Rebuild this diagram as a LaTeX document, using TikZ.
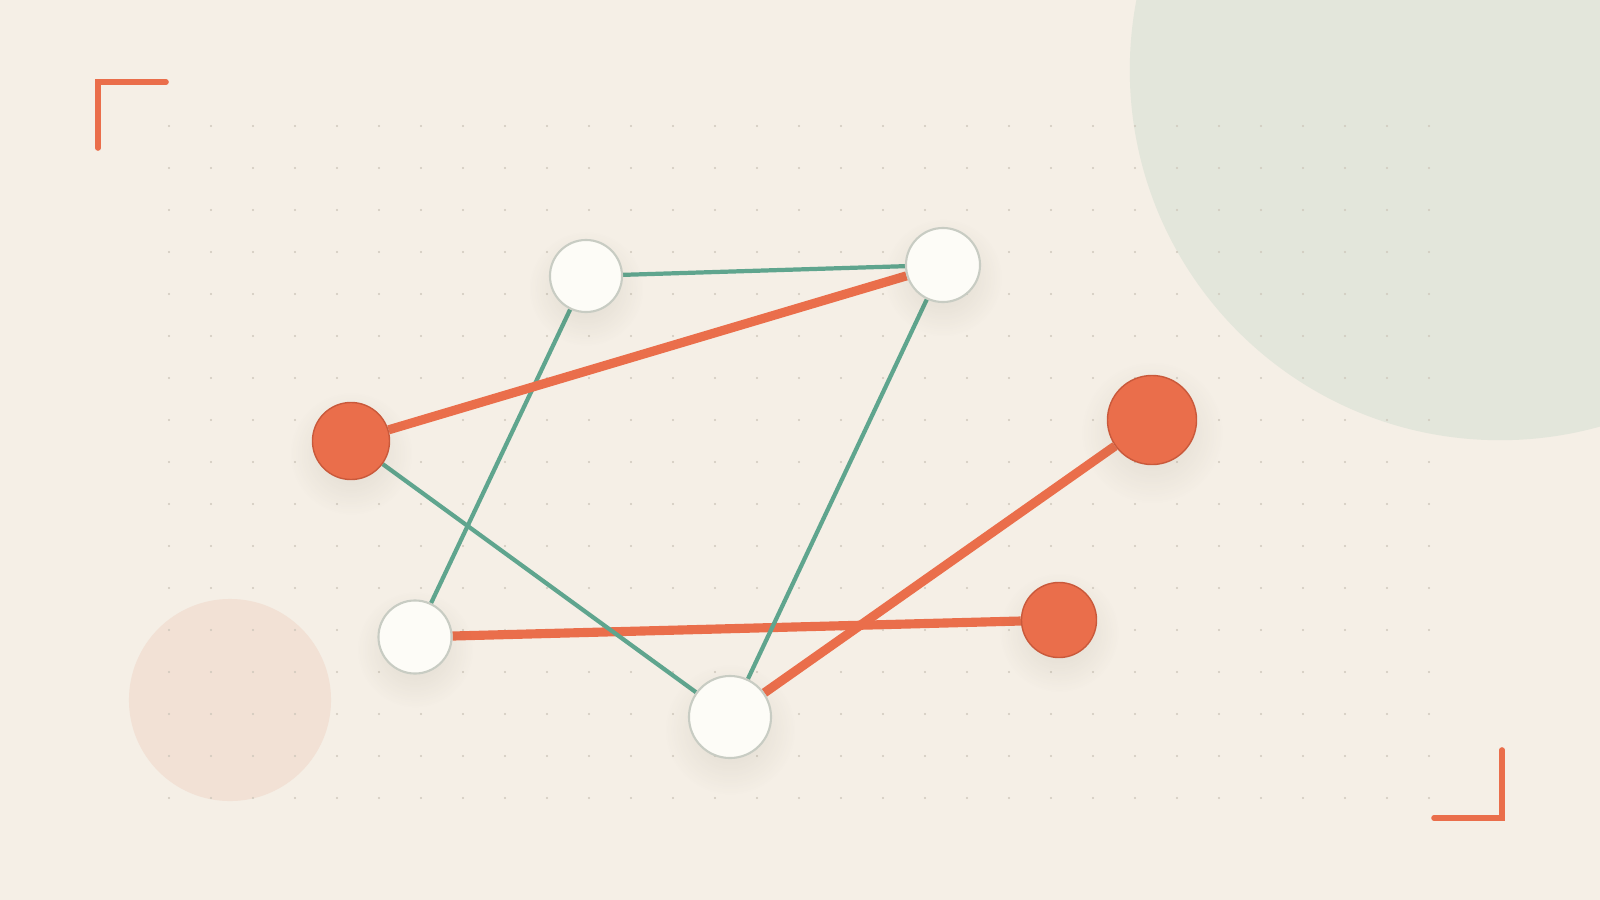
\documentclass[tikz,border=0pt]{standalone}
\usepackage{tikz}
\usetikzlibrary{shadows,fadings,backgrounds}

\definecolor{paper}{HTML}{F5EFE6}
\definecolor{sage}{HTML}{E3E6DB}
\definecolor{blush}{HTML}{F2E1D5}
\definecolor{coral}{HTML}{EA6E4B}
\definecolor{coraldark}{HTML}{C9593B}
\definecolor{tealline}{HTML}{5FA58E}
\definecolor{chalk}{HTML}{FDFCF7}
\definecolor{rim}{HTML}{C8CCC3}
\definecolor{speck}{HTML}{CFC8BC}

\tikzfading[name=softdisc, inner color=transparent!40, outer color=transparent!100]

\begin{document}
\begin{tikzpicture}
[x=0.01cm,y=-0.01cm,
 softshadow/.style={circular drop shadow={shadow xshift=0pt,shadow yshift=-2.2pt,shadow scale=1.6,opacity=.22,fill=black!60!olive,path fading=softdisc}},
 whitedot/.style={circle,draw=rim,fill=chalk,line width=0.6pt,inner sep=0pt,minimum size=#1,softshadow},
 coraldot/.style={circle,draw=coraldark,fill=coral,line width=0.4pt,inner sep=0pt,minimum size=#1,softshadow},
 thin/.style={draw=tealline,line width=1.2pt},
 thick/.style={draw=coral,line width=2.6pt},
 bracket/.style={draw=coral,line width=1.6pt,line cap=round,line join=miter}]
\clip (0,0) rectangle (1600,900);

\node[whitedot=0.72cm] (a) at (586,276) {};
\node[whitedot=0.74cm] (b) at (943,265) {};
\node[coraldot=0.77cm] (c) at (351,441) {};
\node[coraldot=0.89cm] (d) at (1152,420) {};
\node[whitedot=0.73cm] (e) at (415,637) {};
\node[whitedot=0.82cm] (f) at (730,717) {};
\node[coraldot=0.75cm] (g) at (1059,620) {};

\begin{scope}[on background layer]
\fill[paper] (0,0) rectangle (1600,900);
\fill[sage] (1500,70) circle[radius=3.70cm];
\fill[blush] (230,700) circle[radius=1.01cm];
\foreach \i in {0,...,30}
  \foreach \j in {0,...,16}
    \fill[speck] (169+42*\i,126+42*\j) circle[radius=0.012cm];

\draw[bracket] (98,148) -- (98,82) -- (166,82);
\draw[bracket] (1434,818) -- (1502,818) -- (1502,750);

\draw[thin] (a) -- (b);
\draw[thin] (a) -- (e);
\draw[thick] (c) -- (b);
\draw[thick] (e) -- (g);
\draw[thick] (d) -- (f);
\draw[thin] (c) -- (f);
\draw[thin] (b) -- (f);
\end{scope}
\end{tikzpicture}
\end{document}
